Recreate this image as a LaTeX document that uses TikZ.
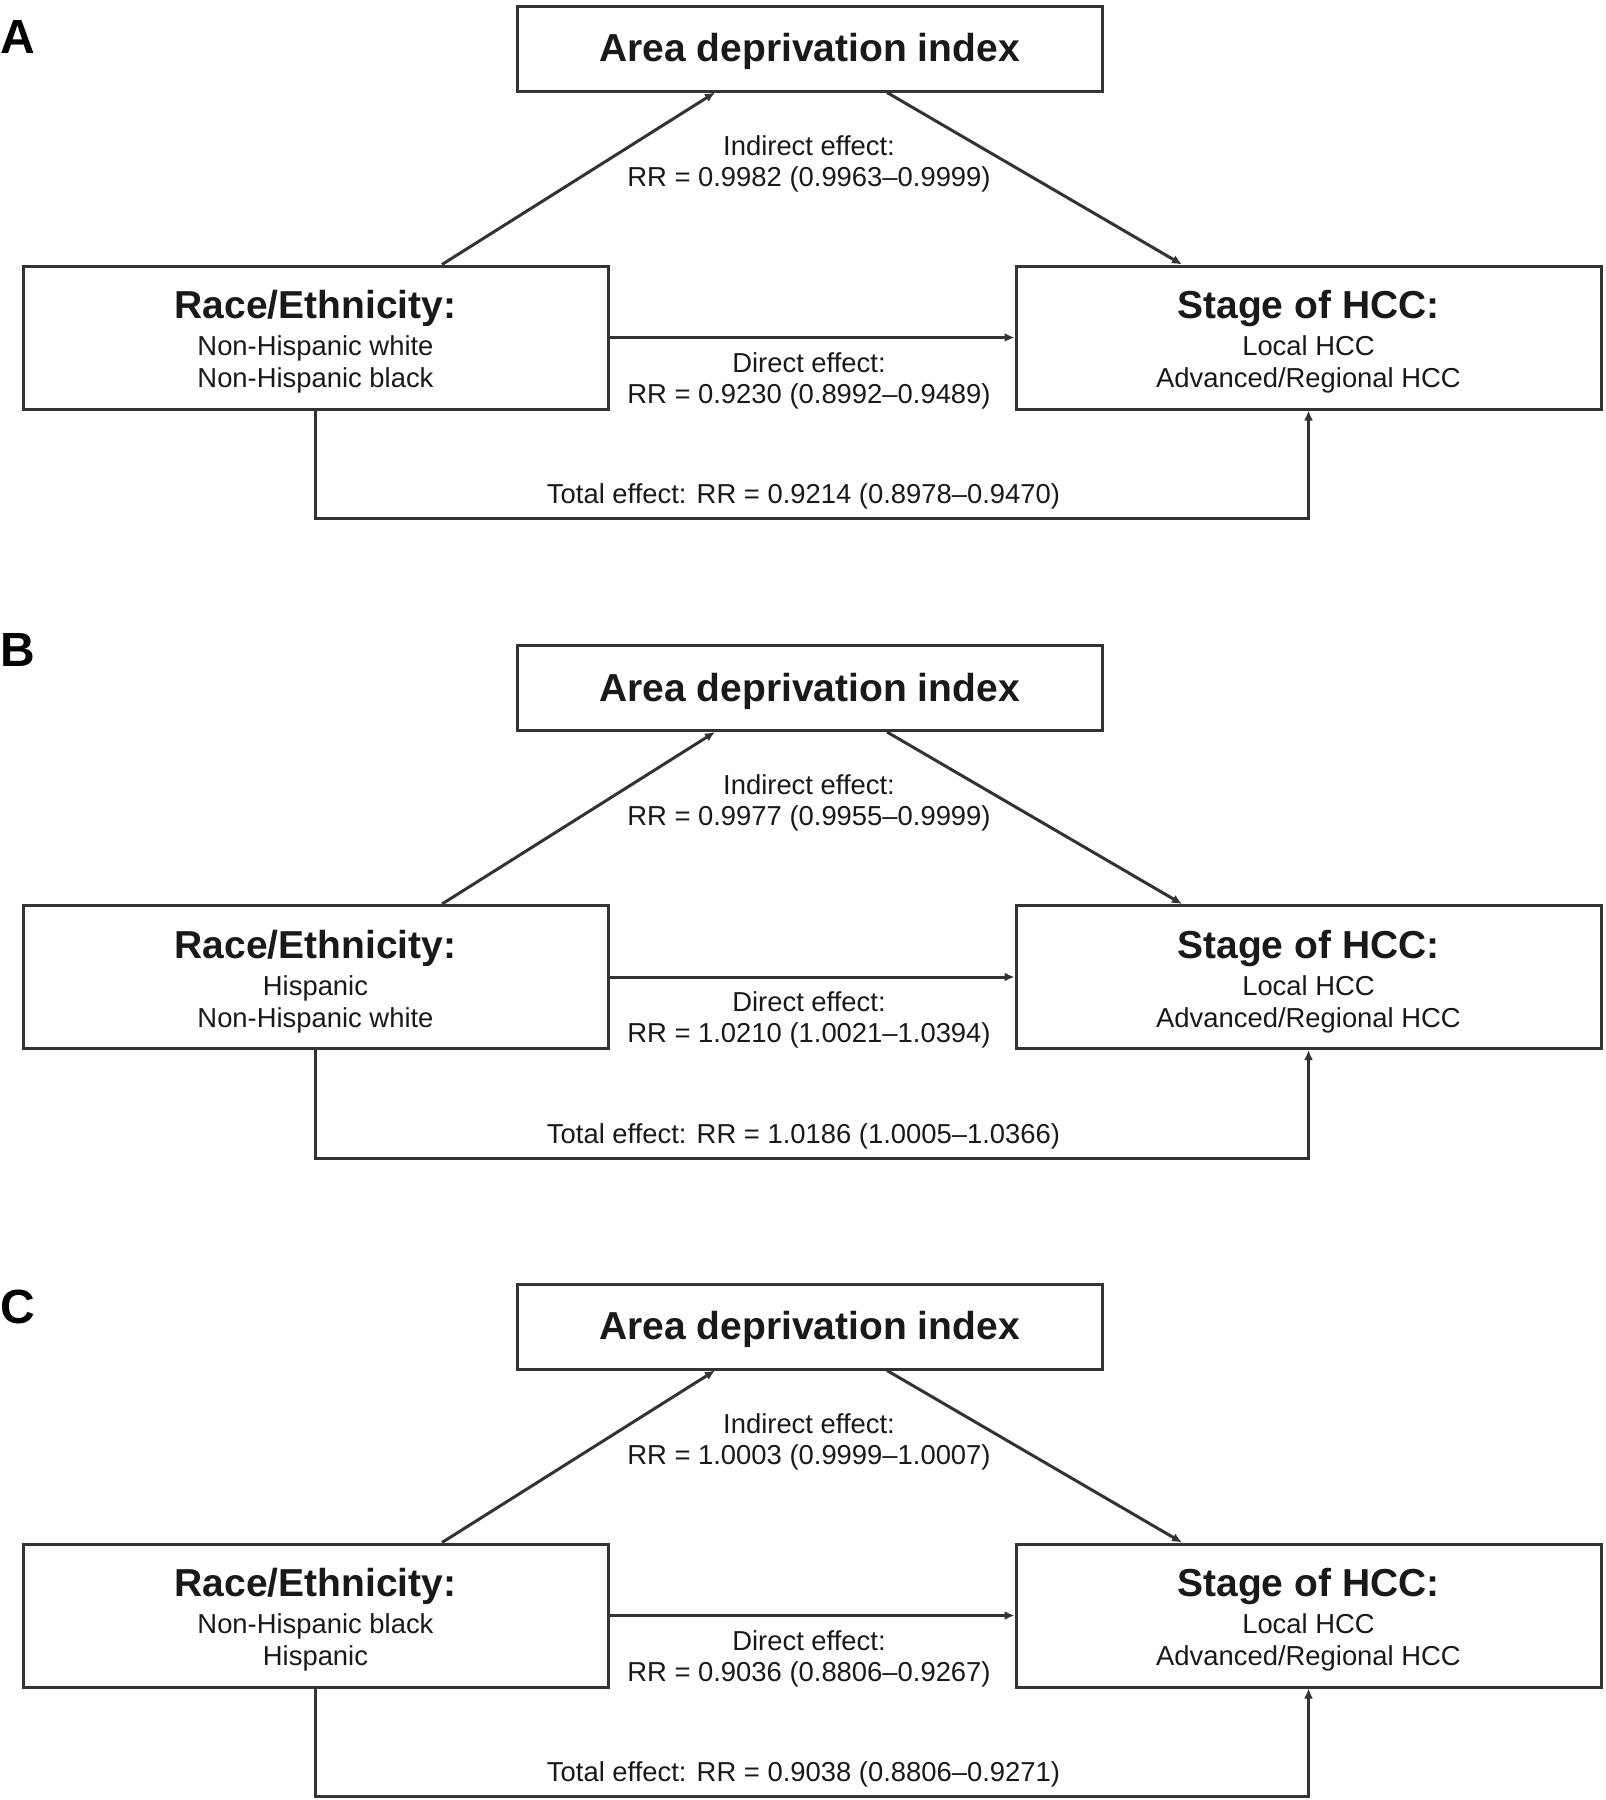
\documentclass[tikz,border=0pt]{standalone}
\usepackage{fontspec}
\setmainfont{Liberation Sans}
\usetikzlibrary{arrows.meta}

\newcommand{\regtext}{\fontsize{13.7}{16.1}\selectfont}
\newcommand{\lbltext}{\fontsize{13.7}{15.5}\selectfont}
\newcommand{\headtext}{\bfseries\fontsize{19.5}{23}\selectfont}
\newcommand{\topgap}{\rule{0pt}{18.6pt}}

\tikzset{
  box/.style={draw=black!80, line width=1.5pt, minimum width=292.5pt,
    inner sep=0pt, align=center, font=\regtext, text=black!90},
  topbox/.style={box, minimum height=42.5pt, font=\headtext, text height=17.5pt},
  sidebox/.style={box, minimum height=71.5pt},
  lbl/.style={align=center, inner sep=0pt, font=\lbltext, text=black!90},
  panel/.style={inner sep=0pt, font=\bfseries\fontsize{24}{28}\selectfont},
  arr/.style={draw=black!80, line width=1.5pt, -{Latex[length=5pt,width=4.5pt]}}
}

\begin{document}
\begin{tikzpicture}[x=0.5pt,y=-0.5pt]
\useasboundingbox (0,0) rectangle (1606,1800);

% panel A
\draw (18,37)       node (10) [panel]   {A};
\draw (809.5,48.5)  node (11) [topbox]  {Area deprivation index};
\draw (315.5,337.5) node (12) [sidebox] {{\headtext\topgap Race/Ethnicity:}\\[2.3pt]Non-Hispanic white\\Non-Hispanic black};
\draw (1308.5,337.5) node (13) [sidebox] {{\headtext\topgap Stage of HCC:}\\[2.3pt]Local HCC\\Advanced/Regional HCC};
\draw (809,163.5)   node (14) [lbl] {Indirect effect:\\RR = 0.9982 (0.9963–0.9999)};
\draw (809,380.5)   node (15) [lbl] {Direct effect:\\RR = 0.9230 (0.8992–0.9489)};
\draw (803.5,496.5) node (16) [lbl] {Total effect: RR = 0.9214 (0.8978–0.9470)};
\draw[arr] ([xshift=63.25pt]12.north) -- ([xshift=-47.25pt]11.south);
\draw[arr] ([xshift=38.75pt]11.south) -- ([xshift=-63.25pt]13.north);
\draw[arr] (12.east) -- (13.west);
\draw[arr] (12.south) -- ++(0,108) -| (13.south);

% panel B
\draw (18,650)      node (20) [panel]   {B};
\draw (809.5,688)   node (21) [topbox]  {Area deprivation index};
\draw (315.5,977)   node (22) [sidebox] {{\headtext\topgap Race/Ethnicity:}\\[2.3pt]Hispanic\\Non-Hispanic white};
\draw (1308.5,977)  node (23) [sidebox] {{\headtext\topgap Stage of HCC:}\\[2.3pt]Local HCC\\Advanced/Regional HCC};
\draw (809,803)     node (24) [lbl] {Indirect effect:\\RR = 0.9977 (0.9955–0.9999)};
\draw (809,1020)    node (25) [lbl] {Direct effect:\\RR = 1.0210 (1.0021–1.0394)};
\draw (803.5,1136)  node (26) [lbl] {Total effect: RR = 1.0186 (1.0005–1.0366)};
\draw[arr] ([xshift=63.25pt]22.north) -- ([xshift=-47.25pt]21.south);
\draw[arr] ([xshift=38.75pt]21.south) -- ([xshift=-63.25pt]23.north);
\draw[arr] (22.east) -- (23.west);
\draw[arr] (22.south) -- ++(0,108) -| (23.south);

% panel C
\draw (18,1306.5)   node (30) [panel]   {C};
\draw (809.5,1326.5) node (31) [topbox] {Area deprivation index};
\draw (315.5,1615.5) node (32) [sidebox] {{\headtext\topgap Race/Ethnicity:}\\[2.3pt]Non-Hispanic black\\Hispanic};
\draw (1308.5,1615.5) node (33) [sidebox] {{\headtext\topgap Stage of HCC:}\\[2.3pt]Local HCC\\Advanced/Regional HCC};
\draw (809,1441.5)  node (34) [lbl] {Indirect effect:\\RR = 1.0003 (0.9999–1.0007)};
\draw (809,1658.5)  node (35) [lbl] {Direct effect:\\RR = 0.9036 (0.8806–0.9267)};
\draw (803.5,1774.5) node (36) [lbl] {Total effect: RR = 0.9038 (0.8806–0.9271)};
\draw[arr] ([xshift=63.25pt]32.north) -- ([xshift=-47.25pt]31.south);
\draw[arr] ([xshift=38.75pt]31.south) -- ([xshift=-63.25pt]33.north);
\draw[arr] (32.east) -- (33.west);
\draw[arr] (32.south) -- ++(0,108) -| (33.south);

\end{tikzpicture}
\end{document}
